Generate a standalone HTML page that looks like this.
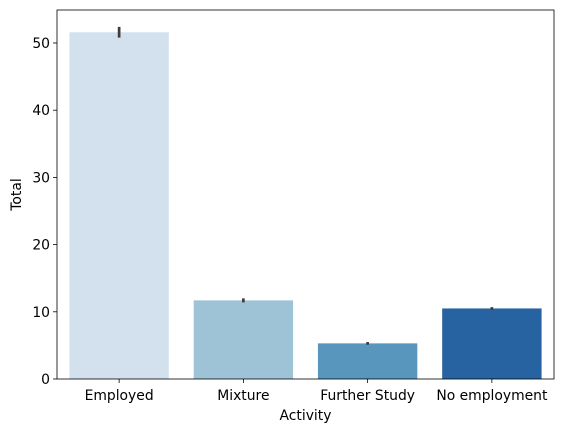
<!DOCTYPE html>
<html><head><meta charset="utf-8"><style>
body{margin:0;background:#fff;font-family:"DejaVu Sans",sans-serif;}
svg text{font-family:"DejaVu Sans","Liberation Sans",sans-serif;font-size:13.9px;fill:#000;}
</style></head><body>
<svg id="chart" width="562" height="432" xmlns="http://www.w3.org/2000/svg"></svg>
<script>
const categories=["Employed","Mixture","Further Study","No employment"];
const values=[51.6,11.7,5.3,10.5];
const errLow=[50.8,11.4,5.1,10.3];
const errHigh=[52.4,12.0,5.5,10.7];
const colors=["#d3e1ef","#9ec3d7","#5896be","#2763a0"];
const yTicks=[0,10,20,30,40,50];
const NS="http://www.w3.org/2000/svg";
const svg=document.getElementById('chart');
const L=57,R=554,T=10,B=379;
const yScale=v=>B-v*6.72;
const band=(R-L)/categories.length;
const xCenter=i=>L+band*(i+0.5);
function mk(tag,attrs,parent){const e=document.createElementNS(NS,tag);for(const k in attrs)e.setAttribute(k,attrs[k]);(parent||svg).appendChild(e);return e;}
categories.forEach((c,i)=>{
  const r=mk('rect',{x:xCenter(i)-band*0.4,y:yScale(values[i]),width:band*0.8,height:B-yScale(values[i]),fill:colors[i]});
  
  
  const e=mk('line',{x1:xCenter(i),x2:xCenter(i),y1:yScale(errLow[i]),y2:yScale(errHigh[i]),stroke:'#3d3d3d','stroke-width':2.7});
  
  
  mk('line',{x1:xCenter(i),x2:xCenter(i),y1:B,y2:B+4,stroke:'#000','stroke-width':0.8});
  const t=mk('text',{x:xCenter(i),y:B+21,'text-anchor':'middle'});t.textContent=c;
  
  
});
yTicks.forEach(v=>{
  mk('line',{x1:L-4,x2:L,y1:yScale(v),y2:yScale(v),stroke:'#000','stroke-width':0.8});
  const t=mk('text',{x:L-7,y:yScale(v)+5,'text-anchor':'end'});t.textContent=v;
  
  
});
const f=mk('rect',{x:L,y:T,width:R-L,height:B-T,fill:'none',stroke:'#000','stroke-width':0.8});


const xt=mk('text',{x:(L+R)/2,y:420,'text-anchor':'middle'});xt.textContent='Activity';


const yt=mk('text',{x:21,y:(T+B)/2,'text-anchor':'middle',transform:`rotate(-90 21 ${(T+B)/2})`});yt.textContent='Total';


</script>
</body></html>
